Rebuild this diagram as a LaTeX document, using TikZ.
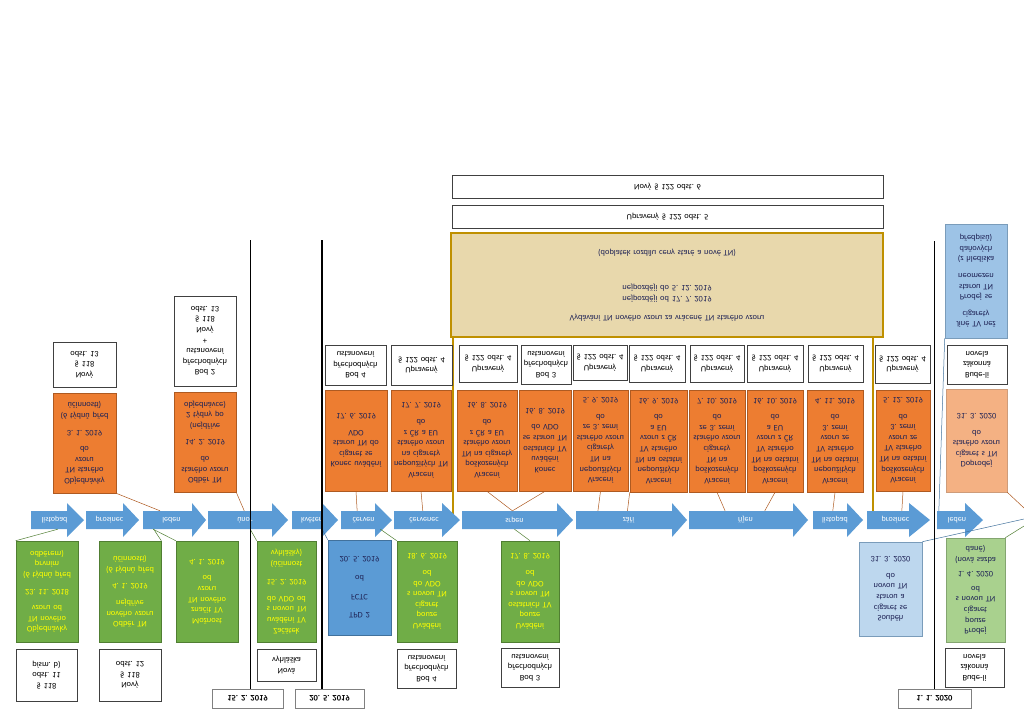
\documentclass[tikz,border=0pt]{standalone}
\usepackage{fontspec}
\setmainfont{Carlito}
\usetikzlibrary{calc}
\frenchspacing
\definecolor{orF}{HTML}{ED7D31}
\definecolor{orD}{HTML}{AE5A21}
\definecolor{grF}{HTML}{70AD47}
\definecolor{grD}{HTML}{507E32}
\definecolor{yel}{HTML}{FFFF00}
\definecolor{bF}{HTML}{5B9BD5}
\definecolor{bD}{HTML}{41719C}
\definecolor{lbF}{HTML}{BDD7EE}
\definecolor{lbN}{HTML}{9DC3E6}
\definecolor{lgF}{HTML}{A9D18E}
\definecolor{pcF}{HTML}{F4B183}
\definecolor{navy}{HTML}{1F2356}
\definecolor{goldD}{HTML}{BF9000}
\definecolor{papy}{HTML}{E8D8AC}
\definecolor{bord}{HTML}{404040}
\tikzset{
 bx/.style={draw, line width=0.6pt, align=center, inner sep=1pt, font=\fontsize{8.4}{10.6}\selectfont},
 orbox/.style={bx, fill=orF, draw=orD, text=navy},
 grbox/.style={bx, fill=grF, draw=grD, text=yel},
 whbox/.style={bx, fill=white, draw=bord, line width=0.8pt, text=black},
 tpdbox/.style={bx, fill=bF, draw=bD, text=navy},
 lbbox/.style={bx, fill=lbF, draw=bD!70, text=navy},
 nbox/.style={bx, fill=lbN, draw=bD!70, text=navy},
 lgbox/.style={bx, fill=lgF, draw=grD!70, text=navy},
 pcbox/.style={bx, fill=pcF, draw=orD!60, text=navy},
 datebox/.style={bx, fill=white, draw=gray, line width=1pt, font=\fontsize{8.5}{10}\selectfont\bfseries},
 goldbox/.style={bx, fill=papy, draw=goldD, line width=2.5pt, text=navy},
 arrlab/.style={inner sep=0pt, text=white, font=\fontsize{8}{9}\selectfont},
 cO/.style={draw=orD, line width=0.5pt},
 cG/.style={draw=grD, line width=0.5pt},
 cB/.style={draw=bD, line width=0.5pt},
 vline/.style={draw=black, line width=1.6pt},
 gline/.style={draw=goldD, line width=2.5pt},
}
\newcommand\mybox[7]{%
 \pgfmathsetmacro\bw{#5-#3}\pgfmathsetmacro\bh{#6-#4}\pgfmathsetmacro\tw{#5-#3-4}%
 \node[#2, minimum width=\bw pt, minimum height=\bh pt, text width=\tw pt] (#1) at ({(#3+#5)/2},{(#4+#6)/2}) {#7};}
\newcommand\marr[5]{%
 \fill[bF] (#2,511) -- (#3,511) -- (#3,503) -- (#4,520) -- (#3,537) -- (#3,529) -- (#2,529) -- cycle;
 \pgfmathsetmacro\aw{#4-6-#2}%
 \node[arrlab, minimum width=\aw pt, minimum height=18pt] (#1) at ({(#2+#4-6)/2},520) {#5};}
\begin{document}
\begin{tikzpicture}[x=1pt,y=1pt,yscale=-1,transform shape]
\useasboundingbox (0,0) rectangle (1024,724);
% gold bracket lines
\draw[gline] (453,337) -- (453,514);
\draw[gline] (873,337) -- (873,514);
% month arrows
\marr{a1}{31}{67}{84}{listopad}
\marr{a2}{86}{123}{139}{prosinec}
\marr{a3}{143}{192}{206}{leden}
\marr{a4}{208}{272}{288}{únor}
\marr{a5}{292}{322}{338}{květen}
\marr{a6}{341}{375}{392}{červen}
\marr{a7}{394}{442}{460}{červenec}
\marr{a8}{462}{557}{573}{srpen}
\marr{a9}{576}{672}{687}{září}
\marr{a10}{689}{793}{808}{říjen}
\marr{a11}{813}{847}{863}{listopad}
\marr{a12}{867}{909}{930}{prosinec}
\marr{a13}{937}{965}{983}{leden}
% lower boxes
\mybox{G1}{grbox}{16}{541}{78}{642}{Objednávky\\TN nového\\vzoru od\\[6pt]23. 11. 2018\\[6pt](6 týdnů před\\prvním\\odběrem)}
\mybox{G2}{grbox}{99}{541}{161}{642}{Odběr TN\\nového vzoru\\nejdříve\\[6pt]4. 1. 2019\\[6pt](6 týdnů před\\účinností)}
\mybox{G3}{grbox}{176}{541}{238}{642}{Možnost\\značit TV\\TN nového\\vzoru\\od\\[6pt]4. 1. 2019}
\mybox{G4}{grbox}{257}{541}{316}{642}{Začátek\\uvádění TV\\s novou TN\\do VDO od\\[6pt]15. 2. 2019\\[8pt](účinnost\\vyhlášky)}
\mybox{TPD}{tpdbox}{328}{540}{391}{635}{TPD 2\\[8pt]FCTC\\[8pt]od\\[8pt]20. 5. 2019}
\mybox{G5}{grbox}{397}{541}{457}{642}{Uvádění\\pouze\\cigaret\\s novou TN\\do VDO\\od\\[6pt]18. 6. 2019}
\mybox{G6}{grbox}{501}{541}{559}{642}{Uvádění\\pouze\\ostatních TV\\s novou TN\\do VDO\\od\\[6pt]17. 8. 2019}
\mybox{O}{lbbox}{859}{542}{922}{636}{Souběh\\cigaret se\\starou a\\novou TN\\do\\[6pt]31. 3. 2020}
\mybox{P}{lgbox}{946}{538}{1005}{642}{Prodej\\pouze\\cigaret\\s novou TN\\od\\[4pt]1. 4. 2020\\[4pt](nová sazba\\daně)}
\mybox{W1}{whbox}{16}{649}{77}{701}{§ 118\\odst. 11\\písm. b)}
\mybox{W2}{whbox}{99}{649}{161}{701}{Nový\\§ 118\\odst. 12}
\mybox{W4}{whbox}{257}{649}{316}{681}{Nová\\vyhláška}
\mybox{W5}{whbox}{397}{649}{456}{688}{Bod 4\\přechodných\\ustanovení}
\mybox{W6}{whbox}{501}{648}{559}{687}{Bod 3\\přechodných\\ustanovení}
\mybox{WP}{whbox}{945}{648}{1004}{687}{Bude-li\\zákonná\\novela}
% upper boxes
\mybox{OA}{orbox}{53}{393}{116}{493}{Objednávky\\TN starého\\vzoru\\do\\[6pt]3. 1. 2019\\[6pt](6 týdnů před\\účinností)}
\mybox{WA}{whbox}{53}{342}{116}{387}{Nový\\§ 118\\odst. 13}
\mybox{OB}{orbox}{174}{392}{236}{492}{Odběr TN\\starého vzoru\\do\\[6pt]14. 2. 2019\\[6pt](nejdříve\\2 týdny po\\objednávce)}
\mybox{WB}{whbox}{174}{296}{236}{386}{Bod 2\\přechodných\\ustanovení\\+\\Nový\\§ 118\\odst. 13}
\mybox{OC}{orbox}{325}{390}{387}{491}{Konec uvádění\\cigaret se\\starou TN do\\VDO\\[6pt]17. 6. 2019}
\mybox{WC}{whbox}{325}{345}{386}{385}{Bod 4\\přechodných\\ustanovení}
\mybox{OD}{orbox}{391}{390}{451}{491}{Vracení\\nepoužitých TN\\na cigarety\\starého vzoru\\z ČR a EU\\do\\[6pt]17. 7. 2019}
\mybox{WD}{whbox}{391}{345}{452}{385}{Upravený\\§ 122 odst. 4}
\mybox{OE}{orbox}{457}{390}{517}{491}{Vracení\\poškozených\\TN na cigarety\\starého vzoru\\z ČR a EU\\do\\[6pt]16. 8. 2019}
\mybox{WE}{whbox}{459}{345}{517}{382}{Upravený\\§ 122 odst. 4}
\mybox{OF}{orbox}{519}{390}{571}{491}{Konec\\uvádění\\ostatních TV\\se starou TN\\do VDO\\[6pt]16. 8. 2019}
\mybox{WF}{whbox}{521}{345}{571}{384}{Bod 3\\přechodných\\ustanovení}
\mybox{OG}{orbox}{573}{390}{628}{491}{Vracení\\nepoužitých\\TN na\\cigarety\\starého vzoru\\ze 3. zemí\\do\\[6pt]5. 9. 2019}
\mybox{WG}{whbox}{573}{345}{627}{380}{Upravený\\§ 122 odst. 4}
\mybox{OH}{orbox}{630}{390}{687}{492}{Vracení\\nepoužitých\\TN na ostatní\\TV starého\\vzoru z ČR\\a EU\\do\\[6pt]16. 9. 2019}
\mybox{WH}{whbox}{629}{345}{685}{382}{Upravený\\§ 122 odst. 4}
\mybox{OI}{orbox}{689}{390}{745}{492}{Vracení\\poškozených\\TN na\\cigarety\\starého vzoru\\ze 3. zemí\\do\\[6pt]7. 10. 2019}
\mybox{WI}{whbox}{690}{345}{744}{382}{Upravený\\§ 122 odst. 4}
\mybox{OJ}{orbox}{747}{390}{803}{492}{Vracení\\poškozených\\TN na ostatní\\TV starého\\vzoru z ČR\\a EU\\do\\[6pt]16. 10. 2019}
\mybox{WJ}{whbox}{747}{345}{803}{382}{Upravený\\§ 122 odst. 4}
\mybox{OK}{orbox}{807}{390}{863}{492}{Vracení\\nepoužitých\\TN na ostatní\\TV starého\\vzoru ze\\3. zemí\\do\\[6pt]4. 11. 2019}
\mybox{WK}{whbox}{808}{345}{863}{382}{Upravený\\§ 122 odst. 4}
\mybox{OL}{orbox}{876}{390}{930}{491}{Vracení\\poškozených\\TN na ostatní\\TV starého\\vzoru ze\\3. zemí\\do\\[6pt]5. 12. 2019}
\mybox{WL}{whbox}{875}{345}{930}{383}{Upravený\\§ 122 odst. 4}
\mybox{M}{pcbox}{946}{389}{1007}{492}{Doprodej\\cigaret s TN\\starého vzoru\\do\\[6pt]31. 3. 2020}
\mybox{WM}{whbox}{947}{345}{1007}{384}{Bude-li\\zákonná\\novela}
\mybox{N}{nbox}{945}{224}{1007}{338}{Jiné TV než\\cigarety\\[6pt]Prodej se\\starou TN\\neomezen\\[6pt](z hlediska\\daňových\\předpisů)}
% gold box and top boxes
\mybox{GB}{goldbox}{451}{233}{883}{337}{Vydávání TN nového vzoru za vrácené TN starého vzoru\\[8pt]nejpozději od 17. 7. 2019\\nejpozději do 5. 12. 2019\\[25pt](doplatek rozdílu ceny staré a nové TN)}
\mybox{T5}{whbox}{452}{205}{883}{228}{Upravený § 122 odst. 5}
\mybox{T6}{whbox}{452}{175}{883}{198}{Nový § 122 odst. 6}
% connectors
\coordinate (offM) at (1024,508);
\coordinate (offO) at (1024,519);
\coordinate (offP) at (1024,526);
\draw[cG] (G1.south west) -- ($(a1.north west)!0.57!(a1.north east)$);
\draw[cG] (G2.south east) -- ($(a3.north west)!0.19!(a3.north east)$);
\draw[cG] (G3.south west) -- ($(a3.north west)!0.18!(a3.north east)$);
\draw[cO] (OA.north east) -- ($(a3.south west)!0.30!(a3.south east)$);
\draw[cO] (OB.north east) -- ($(a4.south west)!0.49!(a4.south east)$);
\draw[cG] (G4.south west) -- ($(a4.north west)!0.57!(a4.north east)$);
\draw[cB] (TPD.south west) -- ($(a5.north west)!0.75!(a5.north east)$);
\draw[cO] (OC.north) -- ($(a6.south west)!0.36!(a6.south east)$);
\draw[cG] (G5.south west) -- ($(a6.north west)!0.87!(a6.north east)$);
\draw[cO] (OD.north) -- ($(a7.south west)!0.48!(a7.south east)$);
\draw[cO] (OE.north) -- ($(a8.south west)!0.48!(a8.south east)$);
\draw[cO] (OF.north) -- ($(a8.south west)!0.48!(a8.south east)$);
\draw[cG] (G6.south) -- ($(a8.north west)!0.50!(a8.north east)$);
\draw[cO] (OG.north) -- ($(a9.south west)!0.21!(a9.south east)$);
\draw[cO] (OH.north west) -- ($(a9.south west)!0.49!(a9.south east)$);
\draw[cO] (OI.north) -- ($(a10.south west)!0.32!(a10.south east)$);
\draw[cO] (OJ.north) -- ($(a10.south west)!0.67!(a10.south east)$);
\draw[cO] (OK.north) -- ($(a11.south west)!0.45!(a11.south east)$);
\draw[cO] (OL.north) -- ($(a12.south west)!0.61!(a12.south east)$);
\draw[cO] (M.north east) -- (offM);
\draw[cB] (O.south east) -- (offO);
\draw[cG] (P.south east) -- (offP);
\draw[cB] (N.north west) -- ($(a13.south west)!0.05!(a13.south east)$);
% date boxes and vertical lines
\mybox{D1}{datebox}{212}{689}{283}{708}{15. 2. 2019}
\mybox{D2}{datebox}{295}{689}{364}{708}{20. 5. 2019}
\mybox{D3}{datebox}{898}{689}{971}{708}{1. 1. 2020}
\coordinate (L1) at (250.5,240);
\coordinate (L2) at (322,240);
\coordinate (L3) at (934.5,241);
\draw[vline] (L1) -- (L1 |- D1.south);
\draw[vline] (L2) -- (L2 |- D2.south);
\draw[vline] (L3) -- (L3 |- D3.south);
\end{tikzpicture}
\end{document}
